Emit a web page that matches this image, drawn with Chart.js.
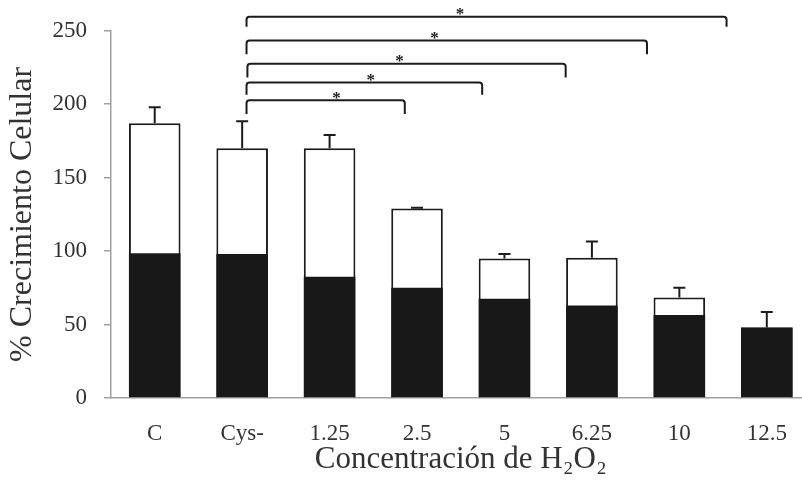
<!DOCTYPE html>
<html>
<head>
<meta charset="utf-8">
<script src="https://cdn.jsdelivr.net/npm/chart.js@4.4.1/dist/chart.umd.min.js"></script>
<style>
  html, body { margin: 0; padding: 0; background: #fff; overflow: hidden; }
  #wrap { width: 802px; height: 480px; overflow: hidden; }
</style>
</head>
<body>
<div id="wrap"><canvas id="growthChart" width="812" height="480"></canvas></div>
<script>
// datos
var categories = ['C', 'Cys-', '1.25', '2.5', '5', '6.25', '10', '12.5'];
var totalGrowth = [187, 170, 170, 129, 95, 95.5, 68.5, 48];
var darkPart = [98.5, 98, 82.5, 75, 67.5, 63, 56.5, 48];
var errorUp = [11, 18.5, 9, 0.5, 3, 11, 6.5, 10.5];

// corchetes de significancia (posicion en indice de categoria y valor del eje y)
var bracketFrom = [1.05, 1.05, 1.06, 1.05, 1.05];
var bracketTo = [2.86, 3.745, 4.70, 5.63, 6.54];
var bracketTop = [202.8, 214.8, 227.6, 243.4, 259.5];
var bracketLeg = [193.3, 206.5, 218.2, 234, 252.7];
var starAt = [2.08, 2.47, 2.8, 3.2, 3.49];

var ink = '#1c1c1c';
var axisGrey = '#a0a0a0';
var textColor = '#333333';

var extrasPlugin = {
    id: 'extras',
    afterDatasetsDraw: function (chart) {
        var ctx = chart.ctx;
        var x = chart.scales.x;
        var y = chart.scales.y;
        ctx.save();
        ctx.strokeStyle = ink;
        ctx.lineWidth = 2;

        // barras de error (solo hacia arriba)
        for (var i = 0; i < categories.length; i++) {
            var px = x.getPixelForValue(i);
            var y0 = y.getPixelForValue(totalGrowth[i]);
            var y1 = y.getPixelForValue(totalGrowth[i] + errorUp[i]);
            ctx.beginPath();
            ctx.moveTo(px, y0);
            ctx.lineTo(px, y1);
            ctx.moveTo(px - 6, y1);
            ctx.lineTo(px + 6, y1);
            ctx.stroke();
        }

        // corchetes con asterisco
        ctx.lineJoin = 'round';
        ctx.fillStyle = ink;
        ctx.font = 'bold 17px "Liberation Serif"';
        ctx.textAlign = 'center';
        ctx.textBaseline = 'middle';
        for (var j = 0; j < bracketFrom.length; j++) {
            var xa = x.getPixelForValue(bracketFrom[j]);
            var xb = x.getPixelForValue(bracketTo[j]);
            var yt = y.getPixelForValue(bracketTop[j]);
            var yl = y.getPixelForValue(bracketLeg[j]);
            ctx.beginPath();
            ctx.moveTo(xa, yl);
            ctx.arcTo(xa, yt, xa + 4, yt, 3);
            ctx.arcTo(xb, yt, xb, yt + 4, 3);
            ctx.lineTo(xb, yl);
            ctx.stroke();
            ctx.fillText('*', x.getPixelForValue(starAt[j]), yt - 2);
        }
        ctx.restore();
    }
};

var ctx = document.getElementById('growthChart').getContext('2d');
var growthChart = new Chart(ctx, {
    type: 'bar',
    data: {
        labels: categories,
        datasets: [{
            label: 'parte oscura',
            data: darkPart,
            backgroundColor: '#171817',
            borderWidth: 0,
            order: 1
        }, {
            label: 'total',
            data: totalGrowth,
            backgroundColor: '#ffffff',
            borderColor: ink,
            borderWidth: 2,
            order: 2
        }]
    },
    options: {
        responsive: false,
        animation: false,
        devicePixelRatio: 1,
        layout: { padding: { top: 29, right: 1.5, bottom: 0, left: 0 } },
        datasets: {
            bar: { grouped: false, categoryPercentage: 1, barPercentage: 0.59 }
        },
        plugins: {
            legend: { display: false },
            tooltip: { enabled: false }
        },
        scales: {
            x: {
                grid: { display: false, drawTicks: false },
                border: { display: true, color: axisGrey, width: 1.5 },
                ticks: {
                    padding: 22,
                    color: textColor,
                    font: { family: 'Liberation Serif', size: 23 }
                },
                title: {
                    display: true,
                    text: 'Concentración de H₂O₂',
                    color: textColor,
                    font: { family: 'Liberation Serif', size: 31 },
                    padding: { top: 0, bottom: 2 }
                },
                afterFit: function (scale) { scale.height = 82; }
            },
            y: {
                min: 0,
                max: 250,
                grid: { drawOnChartArea: false, drawTicks: true, tickLength: 7, color: axisGrey, lineWidth: 1.5 },
                border: { display: true, color: axisGrey, width: 1.5 },
                ticks: {
                    stepSize: 50,
                    padding: 17,
                    color: textColor,
                    font: { family: 'Liberation Serif', size: 23 }
                },
                title: {
                    display: true,
                    text: '% Crecimiento Celular',
                    color: textColor,
                    font: { family: 'Liberation Serif', size: 32 },
                    padding: { top: 3, bottom: 0 }
                },
                afterFit: function (scale) { scale.width = 111; }
            }
        }
    },
    plugins: [extrasPlugin]
});
</script>
</body>
</html>
